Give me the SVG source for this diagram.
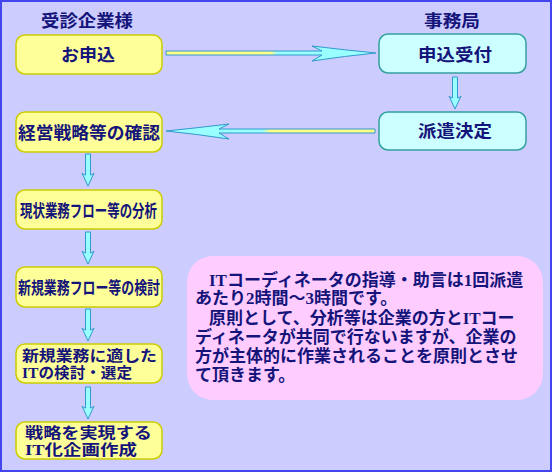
<svg xmlns="http://www.w3.org/2000/svg" width="552" height="472" viewBox="0 0 552 472">
<style>
text{font-family:"Liberation Serif","Noto Sans CJK JP",serif;font-weight:bold;fill:#14147a;}
.hd{font-size:17px;text-anchor:middle;}
.lb{font-size:17px;text-anchor:middle;}
.cn{font-size:17px;}
.c2{font-size:15px;}
.nt{font-size:17px;}
.yb{fill:#ffff99;stroke:#cccc00;stroke-width:1.5;}
.cb{fill:#ccffff;stroke:#33a0a0;stroke-width:1.5;}
.va{fill:#99ffff;stroke:#3399cc;stroke-width:1;}
</style>
<defs>
<path id="dn" d="M-2.5,0 H2.5 V21 Q4,21 6,19 L0,32 L-6,19 Q-4,21 -2.5,21 Z"/>
<linearGradient id="gr" x1="0" y1="0" x2="1" y2="0">
<stop offset="0" stop-color="#ffff88"/><stop offset="0.5" stop-color="#ffff88"/><stop offset="0.53" stop-color="#99ffff"/><stop offset="1" stop-color="#99ffff"/>
</linearGradient>
<linearGradient id="gl" x1="0" y1="0" x2="1" y2="0">
<stop offset="0" stop-color="#99ffff"/><stop offset="0.46" stop-color="#99ffff"/><stop offset="0.5" stop-color="#ffff88"/><stop offset="1" stop-color="#ffff88"/>
</linearGradient>
</defs>
<rect x="1" y="1" width="550" height="470" fill="#ccccff" stroke="#4444ee" stroke-width="2"/>
<text class="hd" x="87" y="27" textLength="92" lengthAdjust="spacingAndGlyphs">受診企業様</text>
<text class="hd" x="452" y="27" textLength="56" lengthAdjust="spacingAndGlyphs">事務局</text>

<g id="connectors">
<path d="M166,51 H322 L312,46 Q345,50 376,53 Q345,56 312,61 L322,55 H166 Z" fill="url(#gr)" stroke="#3399cc" stroke-width="1"/>
<path d="M375,129 H219 L229,124 Q196,128 166,131 Q196,134 229,139 L219,133 H375 Z" fill="url(#gl)" stroke="#3399cc" stroke-width="1"/>
<use href="#dn" class="va" x="455" y="77"/>
<use href="#dn" class="va" x="88" y="154"/>
<use href="#dn" class="va" x="88" y="232"/>
<use href="#dn" class="va" x="88" y="309"/>
<use href="#dn" class="va" x="88" y="387"/>
</g>

<g id="n1"><rect class="yb" x="16" y="35" width="146" height="39" rx="9"/><text class="lb" x="88" y="61" textLength="54" lengthAdjust="spacingAndGlyphs">お申込</text></g>
<g id="n2"><rect class="cb" x="379" y="34" width="147" height="39" rx="9"/><text class="lb" x="455" y="61" textLength="74" lengthAdjust="spacingAndGlyphs">申込受付</text></g>
<g id="n3"><rect class="cb" x="379" y="112" width="147" height="38" rx="9"/><text class="lb" x="455" y="137" textLength="74" lengthAdjust="spacingAndGlyphs">派遣決定</text></g>
<g id="n4"><rect class="yb" x="16" y="112" width="146" height="40" rx="9"/><text class="lb" x="89" y="139" textLength="142" lengthAdjust="spacingAndGlyphs">経営戦略等の確認</text></g>
<g id="n5"><rect class="yb" x="16" y="190" width="146" height="39" rx="9"/><text class="cn" x="20" y="217" textLength="137" lengthAdjust="spacingAndGlyphs">現状業務フロー等の分析</text></g>
<g id="n6"><rect class="yb" x="16" y="267" width="146" height="40" rx="9"/><text class="cn" x="18" y="294" textLength="142" lengthAdjust="spacingAndGlyphs">新規業務フロー等の検討</text></g>
<g id="n7"><rect class="yb" x="16" y="344" width="146" height="39" rx="9"/>
<text class="c2" x="22" y="361" textLength="135" lengthAdjust="spacingAndGlyphs">新規業務に適した</text>
<text class="c2" x="22" y="378" textLength="110" lengthAdjust="spacingAndGlyphs">ITの検討・選定</text></g>
<g id="n8"><rect class="yb" x="16" y="422" width="146" height="37" rx="9"/>
<text class="c2" x="25" y="438" textLength="127" lengthAdjust="spacingAndGlyphs">戦略を実現する</text>
<text class="c2" x="25" y="455" textLength="112" lengthAdjust="spacingAndGlyphs">IT化企画作成</text></g>

<g id="note"><rect x="187" y="256" width="356" height="144" rx="26" fill="#ffccff"/>
<text class="nt" x="209" y="286">ITコーディネータの指導・助言は1回派遣</text>
<text class="nt" x="195" y="304">あたり2時間～3時間です。</text>
<text class="nt" x="209" y="324">原則として、分析等は企業の方とITコー</text>
<text class="nt" x="195" y="343">ディネータが共同で行ないますが、企業の</text>
<text class="nt" x="195" y="362">方が主体的に作業されることを原則とさせ</text>
<text class="nt" x="195" y="381">て頂きます。</text>
</g>
</svg>
